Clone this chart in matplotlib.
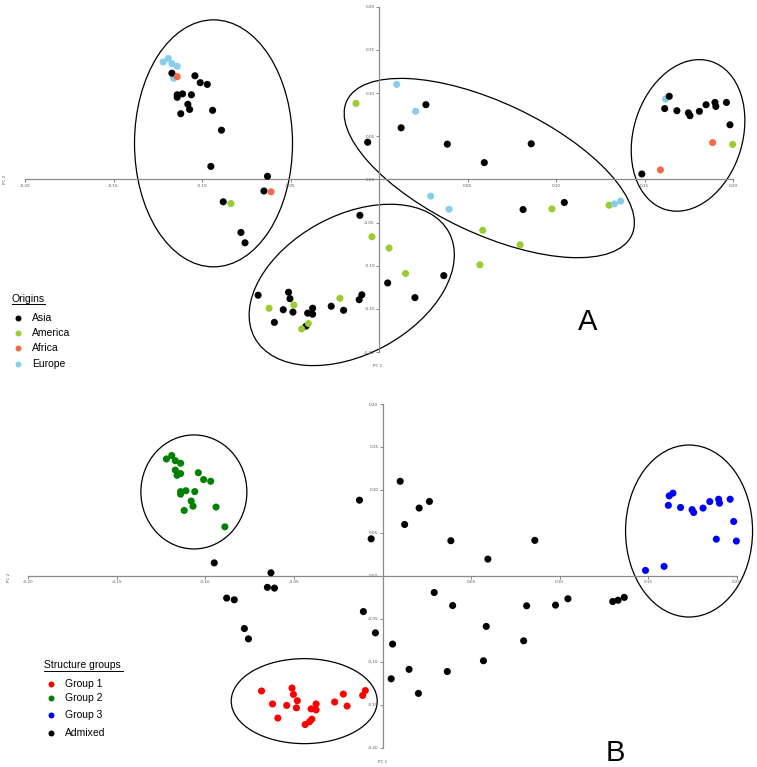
import numpy as np
import matplotlib
matplotlib.use('Agg')
import matplotlib.pyplot as plt
from matplotlib.patches import Ellipse
from matplotlib.lines import Line2D
from matplotlib.transforms import ScaledTranslation

W, H = 757, 767

# PCA coordinates (same accessions in both panels)
pc1 = [-0.122, -0.119, -0.117, -0.114, -0.116, -0.117, -0.114, -0.104, -0.101, -0.097,
       -0.114, -0.114, -0.111, -0.106, -0.108, -0.107, -0.112, -0.094, -0.089,
       -0.095, -0.063, -0.065, -0.061, -0.088, -0.0837, -0.078, -0.0757,
       -0.013, -0.0064, 0.010, 0.0125, 0.0207, 0.0265, 0.0386, 0.0595, 0.0860,
       0.0292, 0.0396, 0.0814, 0.0977, 0.1047, 0.1300, 0.1330, 0.1365,
       -0.0108, -0.0040, 0.0057, 0.0150, 0.0049, 0.0203, 0.0366, 0.0570, 0.0586, 0.0797,
       0.1485, 0.1590, 0.1614, 0.1619, 0.1640, 0.1683, 0.1748, 0.1757, 0.1810, 0.1848,
       0.1898, 0.1903, 0.1963, 0.1983, 0.1885, 0.1998,
       -0.0683, -0.0511, -0.0503, -0.0621, -0.0541, -0.0481, -0.0486, -0.0591, -0.0403,
       -0.0375, -0.0375, -0.0412, -0.0437, -0.0399, -0.0270, -0.0221, -0.0200, -0.0112, -0.0097]
pc2 = [0.136, 0.140, 0.134, 0.131, 0.117, 0.123, 0.119, 0.120, 0.112, 0.110,
       0.098, 0.095, 0.099, 0.098, 0.087, 0.081, 0.076, 0.080, 0.057,
       0.015, 0.0035, -0.0135, -0.0144, -0.026, -0.028, -0.0615, -0.0735,
       0.088, 0.043, 0.110, 0.0597, 0.0788, 0.0865, 0.0408, 0.0194, 0.0412,
       -0.0195, -0.0347, -0.0350, -0.0342, -0.0268, -0.0300, -0.0285, -0.0252,
       -0.0417, -0.0665, -0.0796, -0.1090, -0.1200, -0.1370, -0.1115, -0.0990, -0.0590, -0.0758,
       0.0062, 0.0109, 0.0820, 0.0930, 0.0962, 0.0795, 0.0770, 0.0737, 0.0788, 0.0864,
       0.0891, 0.0845, 0.0891, 0.0632, 0.0426, 0.0404,
       -0.1342, -0.1308, -0.1382, -0.1493, -0.1510, -0.1455, -0.1538, -0.1657, -0.1550,
       -0.1493, -0.1562, -0.1700, -0.1733, -0.1670, -0.1470, -0.1378, -0.1517, -0.1394, -0.1337]
origin = (['Europe'] * 5 + ['Asia', 'Africa'] + ['Asia'] * 12
          + ['Asia', 'Asia', 'Asia', 'Africa', 'Asia', 'America', 'Asia', 'Asia']
          + ['America', 'Asia', 'Europe', 'Asia', 'Europe', 'Asia', 'Asia', 'Asia', 'Asia']
          + ['Europe', 'Europe', 'Asia', 'America', 'Asia', 'America', 'Europe', 'Europe']
          + ['Asia', 'America', 'America', 'America', 'Asia', 'Asia', 'Asia', 'America', 'America', 'America']
          + ['Asia', 'Africa', 'Asia', 'Europe'] + ['Asia'] * 10 + ['Africa', 'America']
          + ['Asia', 'Asia', 'Asia', 'America', 'Asia', 'America', 'Asia', 'Asia', 'Asia',
             'Asia', 'Asia', 'Asia', 'America', 'America', 'Asia', 'America', 'Asia', 'Asia', 'Asia'])
group = ['Group 2'] * 19 + ['Admixed'] * 35 + ['Group 3'] * 16 + ['Group 1'] * 19

origin_names = ['Asia', 'America', 'Africa', 'Europe']
origin_colors = ['#000000', '#9acd32', '#f26a4b', '#87ceeb']
group_names = ['Group 1', 'Group 2', 'Group 3', 'Admixed']
group_colors = ['#ff0000', '#008000', '#0000ff', '#000000']

tick_vals = [-0.20, -0.15, -0.10, -0.05, 0.00, 0.05, 0.10, 0.15, 0.20]

# ellipses: centre (data), width/height in pixels, angle
ellipses_a = [(-0.0935, 0.0417, 158, 247, 0), (0.0623, 0.0131, 315, 131, -25.3),
              (0.1746, 0.0509, 155, 109, 73), (-0.0154, -0.1223, 221, 139, 28.5)]
ellipses_b = [(-0.1065, 0.0976, 106, 114, 0), (-0.0442, -0.146, 146, 85, 0),
              (0.1731, 0.0521, 127, 172, 0)]


def fx(px):
    return px / W


def fy(py):
    return 1 - py / H


def setup(ax):
    ax.set_xlim(-0.2, 0.2)
    ax.set_ylim(-0.2, 0.2)
    ax.spines['top'].set_visible(False)
    ax.spines['right'].set_visible(False)
    ax.spines['left'].set_position(('data', 0))
    ax.spines['bottom'].set_position(('data', 0))
    for s in ['left', 'bottom']:
        ax.spines[s].set_color('#8a8a8a')
        ax.spines[s].set_linewidth(0.9)
    xt = [t for t in tick_vals if t != 0]
    ax.set_xticks(xt)
    ax.set_xticklabels(['%.2f' % t for t in xt])
    ax.set_yticks(tick_vals)
    ax.set_yticklabels(['%.2f' % t for t in tick_vals])
    ax.tick_params(length=2, width=0.5, pad=1, labelsize=3, colors='#555555')
    ax.patch.set_visible(False)


def draw_ellipses(ax, ells):
    for cx, cy, w, h, ang in ells:
        e = Ellipse((0, 0), w / 100, h / 100, angle=ang, fill=False, edgecolor='black',
                    linewidth=0.9, clip_on=False,
                    transform=fig.dpi_scale_trans + ScaledTranslation(cx, cy, ax.transData))
        ax.add_patch(e)


def legend(title, x_title, y_title, ul, names, colors, x_dot, x_text, ys):
    fig.text(fx(x_title), fy(y_title), title, fontsize=7.5, family='Liberation Sans',
             va='center', ha='left')
    fig.add_artist(Line2D([fx(ul[0]), fx(ul[1])], [fy(ul[2]), fy(ul[2])],
                          color='black', lw=0.7, transform=fig.transFigure))
    for name, col, y in zip(names, colors, ys):
        fig.add_artist(Line2D([fx(x_dot)], [fy(y)], marker='o', ms=4.3, mew=0, color=col,
                              linestyle='none', transform=fig.transFigure))
        fig.text(fx(x_text), fy(y), name, fontsize=7.5, family='Liberation Sans',
                 va='center', ha='left')


fig = plt.figure(figsize=(W / 100, H / 100), dpi=100)

axA = fig.add_axes([fx(25), fy(352), (733 - 25) / W, (352 - 6.7) / H])
axB = fig.add_axes([fx(28.3), fy(747.5), (736.7 - 28.3) / W, (747.5 - 404) / H])

for ax in [axA, axB]:
    setup(ax)

col_a = [origin_colors[origin_names.index(o)] for o in origin]
col_b = [group_colors[group_names.index(g)] for g in group]
axA.scatter(pc1, pc2, c=col_a, s=26, linewidths=0, zorder=3, clip_on=False)
axB.scatter(pc1, pc2, c=col_b, s=26, linewidths=0, zorder=3, clip_on=False)

draw_ellipses(axA, ellipses_a)
draw_ellipses(axB, ellipses_b)

# axis titles
fig.text(fx(5), fy(179), 'PC 2', rotation=90, fontsize=3, color='#555555', ha='center', va='center')
fig.text(fx(378), fy(366), 'PC 1', fontsize=3, color='#555555', ha='center', va='center')
fig.text(fx(9), fy(577), 'PC 2', rotation=90, fontsize=3, color='#555555', ha='center', va='center')
fig.text(fx(383), fy(762), 'PC 1', fontsize=3, color='#555555', ha='center', va='center')

legend('Origins', 11.7, 299, (11.7, 44.5, 304), origin_names, origin_colors,
       18.3, 32.3, [318.3, 332.7, 347.7, 364])
legend('Structure groups', 44.3, 665, (44.3, 122.5, 670.5), group_names, group_colors,
       50.7, 65, [684, 698.3, 715, 732.7])

fig.text(fx(588), fy(322), 'A', fontsize=21, family='Liberation Sans', ha='center', va='center')
fig.text(fx(615), fy(753), 'B', fontsize=21, family='Liberation Sans', ha='center', va='center')

fig.savefig('out.png', dpi=100)
